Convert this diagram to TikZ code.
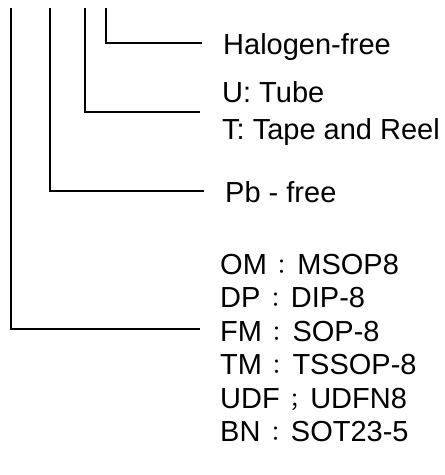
\documentclass[tikz,border=0pt]{standalone}
\usepackage{fontspec}
\setmainfont{Liberation Sans}
\newfontfamily\cjk{Noto Sans CJK TC}
\newcommand{\fwc}{\makebox[1.05em]{\cjk\fontsize{21}{21}\selectfont ：}}
\newcommand{\fws}{\makebox[1.05em]{\cjk\fontsize{21}{21}\selectfont ；}}
\begin{document}
\begin{tikzpicture}[x=1pt,y=-1pt,
  lbl/.style={anchor=base west,inner sep=0pt,font=\fontsize{29}{34}\selectfont},
  bracket/.style={line width=1.8pt,line cap=butt}]
\useasboundingbox (0,0) rectangle (445,475);
% labels
\node[lbl] (hal) at (223,54) {Halogen-free};
\node[lbl] (tube) at (222,102) {U: Tube};
\node[lbl] (tape) at (222,139) {T: Tape and Reel};
\node[lbl] (pb) at (225,202) {Pb - free};
\node[lbl] (om) at (220,274) {OM\fwc MSOP8};
\node[lbl] (dp) at (220,307) {DP\fwc DIP-8};
\node[lbl] (fm) at (220,341) {FM\fwc SOP-8};
\node[lbl] (tm) at (220,374) {TM\fwc TSSOP-8};
\node[lbl] (udf) at (220,408) {UDF\fws UDFN8};
\node[lbl] (bn) at (220,441) {BN\fwc SOT23-5};
% bracket coordinates
\coordinate (a1) at (11,8);   \coordinate (b1) at (200,329);
\coordinate (a2) at (50,8);   \coordinate (b2) at (204,191);
\coordinate (a3) at (85,8);   \coordinate (b3) at (200,112);
\coordinate (a4) at (106,8);  \coordinate (b4) at (202,43);
\draw[bracket] (a1) |- (b1);
\draw[bracket] (a2) |- (b2);
\draw[bracket] (a3) |- (b3);
\draw[bracket] (a4) |- (b4);
\end{tikzpicture}
\end{document}
